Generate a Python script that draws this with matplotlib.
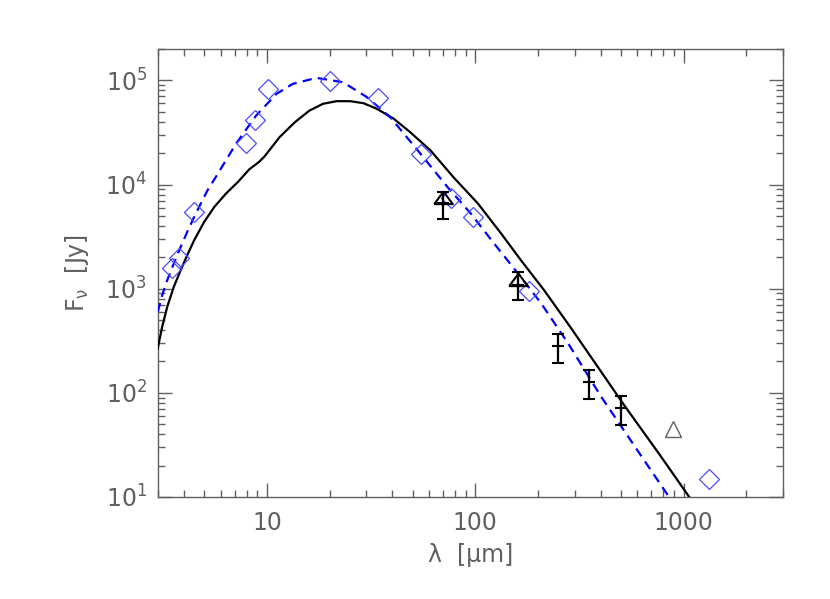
import numpy as np
import matplotlib
matplotlib.use('Agg')
import matplotlib.pyplot as plt
from matplotlib.ticker import LogLocator, FixedLocator, FixedFormatter, NullFormatter

GREY = '#606060'
BLUE = '#0000ff'
DIAMOND = '#4a4aff'

# photometry (blue diamonds)
phot_wl = [3.5, 3.78, 4.47, 7.96, 8.8, 10.06, 20.0, 34.2, 55.1, 76.2, 97.3, 181, 1328]
phot_flux = [1570, 1955, 5400, 25300, 41200, 81700, 97600, 68400, 19500, 7360, 4840, 944, 14.9]

# measurements with error bars
meas_wl = [70, 160, 250, 350, 500]
meas_flux = [6590, 1080, 281, 127, 71.3]
meas_hi = [8400, 1435, 366, 165, 93]
meas_lo = [4620, 774, 193, 87, 49]
# the first two also carry a triangle
tri_wl = [70, 160]
tri_flux = [6590, 1080]

# grey open triangle
grey_wl = [889]
grey_flux = [44.9]

# model 1 (solid black)
mod1_wl = [2.99, 3.14, 3.32, 3.57, 3.85, 4.14, 4.47, 4.99, 5.58, 6.35, 7.23, 8.23, 9.2, 9.73,
           11.5, 13.6, 16.0, 18.6, 21.6, 25.1, 29.1, 33.7, 40.6, 48.7, 61.0, 78.7, 102.8,
           132.8, 165.8, 214, 289, 403, 521, 762, 1064, 1200]
mod1_flux = [267, 430, 668, 1040, 1500, 2090, 2910, 4360, 6070, 8170, 10500, 14000, 16600, 18600,
             28500, 39600, 51300, 59600, 63100, 63100, 60300, 53300, 42800, 31800, 21200, 11700, 6590,
             3400, 1870, 966, 415, 158, 75, 26, 10, 7.1]

# model 2 (dashed blue)
mod2_wl = [2.99, 3.14, 3.32, 3.57, 3.85, 4.14, 4.47, 4.81, 5.18, 5.68, 7.1, 8.87, 11.1,
           13.3, 17.3, 23.2, 30.2, 39.1, 54.6, 73.6, 95, 123, 160, 207, 280, 403, 851, 1000]
mod2_flux = [598, 865, 1205, 1740, 2510, 3500, 4870, 6550, 8770, 11800, 24600, 45900, 74100,
             92500, 105700, 95900, 68900, 44200, 19700, 9440, 5280, 2720, 1405, 724, 295, 91, 10, 6.2]

fig = plt.figure(figsize=(8.3, 5.99), dpi=100)
ax = fig.add_axes([0.1904, 0.1703, 0.7530, 0.7479])

ax.plot(mod1_wl, mod1_flux, color='black', lw=1.6, zorder=3)
ax.plot(mod2_wl, mod2_flux, color=BLUE, lw=1.6, ls=(0, (4.2, 2.8)), zorder=3)

ax.plot(phot_wl, phot_flux, ls='none', marker='D', ms=10, mfc='none',
        mec=DIAMOND, mew=0.9, zorder=4)

yerr = [np.array(meas_flux) - np.array(meas_lo), np.array(meas_hi) - np.array(meas_flux)]
ax.errorbar(meas_wl, meas_flux, yerr=yerr, fmt='+', color='black', ms=9, mew=1.5,
            elinewidth=1.6, capsize=4, capthick=1.6, zorder=5)

tri_marker = [(-0.75, -0.05), (0.75, -0.05), (0.0, 0.95), (-0.75, -0.05)]
ax.plot(tri_wl, tri_flux, ls='none', marker=tri_marker, ms=17, mfc='none',
        mec='black', mew=1.5, zorder=5)

ax.plot(grey_wl, grey_flux, ls='none', marker='^', ms=12, mfc='none',
        mec=GREY, mew=1.0, zorder=5)

ax.set_xscale('log')
ax.set_yscale('log')
ax.set_xlim(3, 3000)
ax.set_ylim(10, 2e5)

ax.xaxis.set_major_locator(FixedLocator([10, 100, 1000]))
ax.xaxis.set_major_formatter(FixedFormatter(['10', '100', '1000']))
ax.xaxis.set_minor_locator(LogLocator(base=10, subs=np.arange(2, 10)))
ax.xaxis.set_minor_formatter(NullFormatter())
ax.yaxis.set_major_locator(LogLocator(base=10))
ax.yaxis.set_minor_locator(LogLocator(base=10, subs=np.arange(2, 10)))
ax.yaxis.set_minor_formatter(NullFormatter())

ax.tick_params(which='both', direction='in', top=True, right=True, color=GREY,
               labelcolor=GREY, labelsize=17)
ax.tick_params(which='major', length=10, width=1)
ax.tick_params(which='minor', length=5, width=1)
ax.tick_params(axis='x', pad=10)
ax.tick_params(axis='y', pad=8)
for side in ax.spines.values():
    side.set_color(GREY)
    side.set_linewidth(1)

ax.set_xlabel('λ  [μm]', color=GREY, fontsize=17, labelpad=6)
ax.set_ylabel(r'F$_{\mathrm{\nu}}$  [Jy]', color=GREY, fontsize=17, labelpad=10)

fig.savefig('out.png', dpi=100)
